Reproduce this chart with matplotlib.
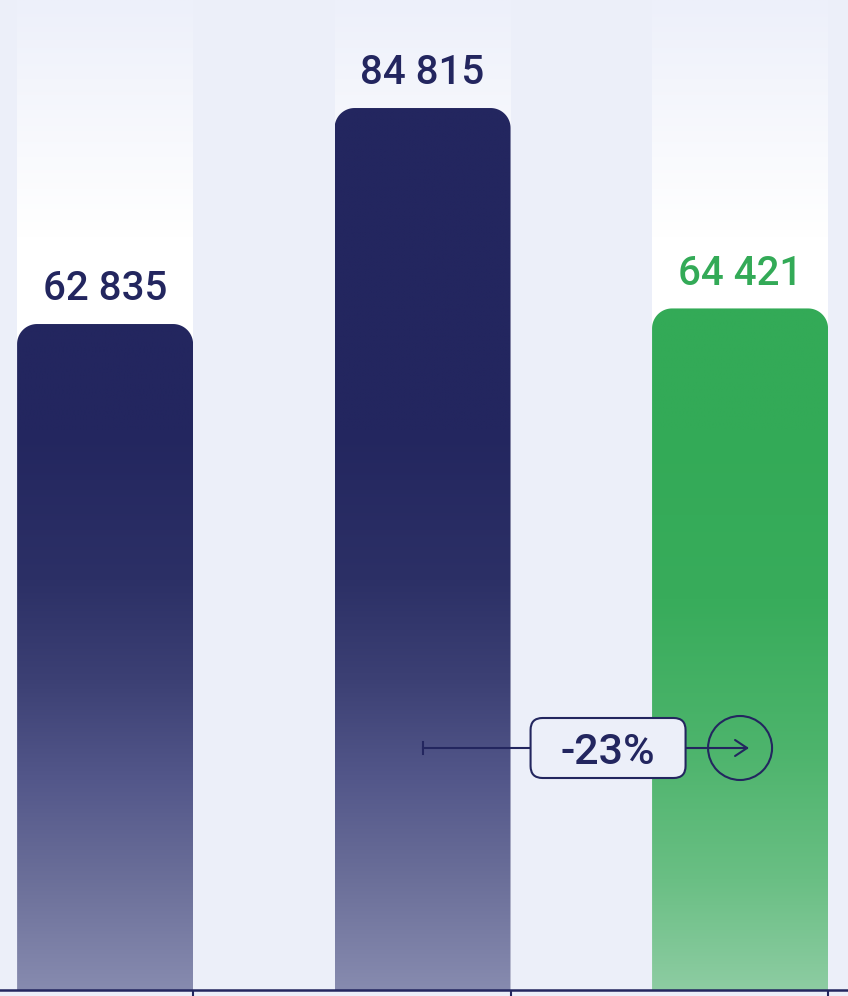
import numpy as np
import matplotlib.pyplot as plt
from matplotlib.colors import to_rgb
from matplotlib.path import Path
from matplotlib.patches import PathPatch, FancyBboxPatch, Ellipse

# data
labels = ['62 835', '84 815', '64 421']
values = [62835, 84815, 64421]
change_label = '-23%'
highlight = 2

NAVY = '#23265F'
GREEN = '#33AA57'
BG = '#ECEFF9'

plt.rcParams['font.family'] = ['Roboto', 'DejaVu Sans']

fig = plt.figure(figsize=(8.48, 9.96), dpi=100)
fig.patch.set_facecolor(BG)
ax = fig.add_axes([0, 0, 1, 1])
ax.set_facecolor(BG)

# value axis does not start at zero
ybase = -4935
ylo, yhi = -5546, 95808
ax.set_xlim(-0.331, 2.340)
ax.set_ylim(ylo, yhi)
ax.axis('off')

xpp = 1 / 317.5                 # data x per pixel
ypp = (yhi - ylo) / 996         # data y per pixel
width = 176 * xpp


def py(px):
    # pixel row -> data y
    return yhi - px * ypp


def grad(stops_px, colors, y0, y1, n=500):
    ys = np.linspace(y1, y0, n)
    sy = np.array([py(p) for p in stops_px])[::-1]
    cols = np.array([to_rgb(c) for c in colors])[::-1]
    img = np.stack([np.interp(ys, sy, cols[:, k]) for k in range(3)], axis=-1)
    return img[:, None, :]


def rounded_top(x0, x1, y0, y1, rx, ry, n=24):
    t = np.linspace(np.pi, np.pi / 2, n)
    left = np.column_stack([x0 + rx + rx * np.cos(t), y1 - ry + ry * np.sin(t)])
    t2 = np.linspace(np.pi / 2, 0, n)
    right = np.column_stack([x1 - rx + rx * np.cos(t2), y1 - ry + ry * np.sin(t2)])
    verts = np.vstack([[x0, y0], left, right, [x1, y0], [x0, y0]])
    return Path(verts, closed=True)


navy_stops = ([430, 580, 680, 780, 880, 990],
              [NAVY, '#2C3066', '#3C4074', '#53578A', '#6B6F99', '#878BAF'])
green_stops = ([430, 600, 750, 880, 990],
               [GREEN, '#38AC5B', '#4DB46C', '#6ABF84', '#8DCCA2'])

for i, v in enumerate(values):
    x0, x1 = i - width / 2, i + width / 2
    # pale column behind the bar
    col = grad([0, 235], ['#EDF0FA', '#FFFFFF'], ybase, yhi)
    ax.imshow(col, extent=[x0, x1, ybase, yhi], aspect='auto',
              interpolation='bilinear', zorder=1)
    # bar with rounded top and vertical gradient
    stops = green_stops if i == highlight else navy_stops
    img = grad(stops[0], stops[1], ybase, v)
    im = ax.imshow(img, extent=[x0, x1, ybase, v], aspect='auto',
                   interpolation='bilinear', zorder=2)
    patch = PathPatch(rounded_top(x0, x1, ybase, v, 20 * xpp, 20 * ypp),
                      transform=ax.transData, facecolor='none', edgecolor='none')
    ax.add_patch(patch)
    im.set_clip_path(patch)
    ax.annotate(labels[i], (i, v), xytext=(0, 17), textcoords='offset points',
                ha='center', va='baseline', fontsize=29, fontweight='medium',
                color=GREEN if i == highlight else NAVY, zorder=5)

# baseline and ticks
ax.axhline(py(990), color=NAVY, lw=1.8, zorder=4)
ax.vlines([i + width / 2 for i in range(len(values))], py(996), py(990),
          color=NAVY, lw=1.5, zorder=4)

# change annotation between bar 2 and bar 3
ya = py(748)
tip = 2 + 7 * xpp
ax.plot([1, tip], [ya, ya], color=NAVY, lw=1.5, zorder=6)
ax.plot([1, 1], [ya - 6 * ypp, ya + 6 * ypp], color=NAVY, lw=1.5, zorder=6)
ax.plot([tip - 12 * xpp, tip, tip - 12 * xpp],
        [ya + 8 * ypp, ya, ya - 8 * ypp], color=NAVY, lw=1.5, zorder=6,
        solid_capstyle='round', solid_joinstyle='round')
ax.add_patch(Ellipse((2, ya), 64 * xpp, 64 * ypp, facecolor='none',
                     edgecolor=NAVY, lw=1.5, zorder=6))

bx0, bx1 = 1 + (531 - 423) * xpp, 1 + (686 - 423) * xpp
box = FancyBboxPatch((bx0, ya - 30 * ypp), bx1 - bx0, 60 * ypp,
                     boxstyle='round,pad=0,rounding_size=%f' % (12 * xpp),
                     mutation_aspect=ypp / xpp, facecolor=BG, edgecolor=NAVY,
                     lw=1.5, zorder=7)
ax.add_patch(box)
ax.text((bx0 + bx1) / 2, ya, change_label, ha='center', va='center_baseline',
        fontsize=31, fontweight='medium', color=NAVY, zorder=8)

fig.savefig('out.png', dpi=100, facecolor=BG)
